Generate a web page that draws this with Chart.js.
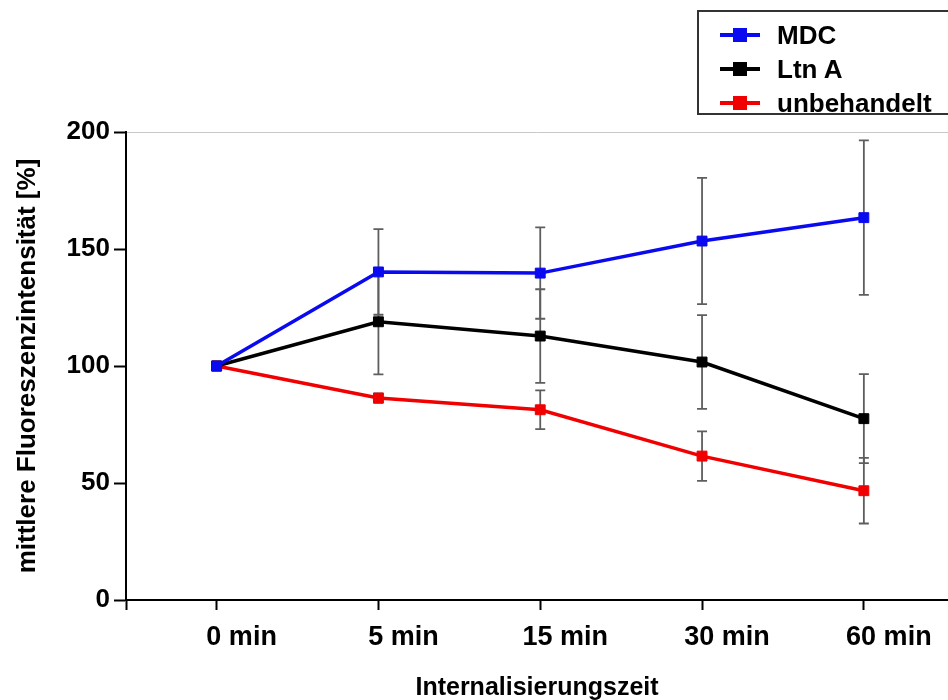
<!DOCTYPE html>
<html>
<head>
<meta charset="utf-8">
<script src="https://cdn.jsdelivr.net/npm/chart.js@4.4.0/dist/chart.umd.min.js"></script>
<style>
    html, body { margin: 0; padding: 0; background: #fff; overflow: hidden; }
    #wrap { position: relative; width: 948px; height: 700px; }
    #legend {
        position: absolute; left: 697px; top: 10px; width: 262px; height: 105px;
        box-sizing: border-box; border: 2px solid #333; background: #fff;
        padding-top: 6px; font: bold 26px "Liberation Sans", Arial, sans-serif; color: #000;
    }
    .row { height: 34px; display: flex; align-items: center; }
    .sym { position: relative; width: 40px; height: 34px; margin-left: 21px; margin-right: 17px; }
    .sym .ln { position: absolute; left: 0; right: 0; top: 15px; height: 4px; }
    .sym .mk { position: absolute; left: 13px; top: 10px; width: 14px; height: 14px; }
</style>
</head>
<body>
<div id="wrap">
    <canvas id="chart" width="948" height="700"></canvas>
    <div id="legend"></div>
</div>
<script>
// categories and values
const categories = ["0 min", "5 min", "15 min", "30 min", "60 min"];
const mdc = [100, 140.2, 139.7, 153.4, 163.4];
const mdcErr = [0, 18.3, 19.5, 27, 33];
const ltnA = [100, 118.9, 112.8, 101.7, 77.5];
const ltnAErr = [0, 22.5, 20, 20, 19];
const unbehandelt = [100, 86.3, 81.3, 61.5, 46.7];
const unbehandeltErr = [0, 2, 8.3, 10.6, 14];
const yTicks = [0, 50, 100, 150, 200];

const xMin = -0.56;
const xMax = 4.52;
const font = '"Liberation Sans", Arial, sans-serif';

function points(values) {
    return values.map((v, i) => ({ x: i, y: v }));
}

function series(label, values, errors, color) {
    return {
        label: label,
        data: points(values),
        errors: errors,
        borderColor: color,
        backgroundColor: color,
        borderWidth: 3.5,
        pointStyle: "rect",
        pointRadius: 7,
        pointBorderWidth: 1,
        tension: 0
    };
}

// error bars drawn through the scales, behind the lines
const errorBars = {
    id: "errorBars",
    beforeDatasetsDraw(chart) {
        const { ctx, scales: { x, y } } = chart;
        ctx.save();
        ctx.strokeStyle = "#5e5e5e";
        ctx.lineWidth = 1.8;
        chart.data.datasets.forEach(ds => {
            ds.errors.forEach((e, i) => {
                if (!e) return;
                const px = x.getPixelForValue(ds.data[i].x);
                const top = y.getPixelForValue(ds.data[i].y + e);
                const bot = y.getPixelForValue(ds.data[i].y - e);
                ctx.beginPath();
                ctx.moveTo(px, top); ctx.lineTo(px, bot);
                ctx.moveTo(px - 5, top); ctx.lineTo(px + 5, top);
                ctx.moveTo(px - 5, bot); ctx.lineTo(px + 5, bot);
                ctx.stroke();
            });
        });
        ctx.restore();
    }
};

const datasets = [
    series("MDC", mdc, mdcErr, "#0a0af0"),
    series("Ltn A", ltnA, ltnAErr, "#000000"),
    series("unbehandelt", unbehandelt, unbehandeltErr, "#f00000")
];

new Chart(document.getElementById("chart"), {
    type: "line",
    data: { datasets: datasets },
    plugins: [errorBars],
    options: {
        responsive: false,
        animation: false,
        layout: { autoPadding: false, padding: { top: 132, right: 0, bottom: 0, left: 0 } },
        plugins: { legend: { display: false }, tooltip: { enabled: false } },
        scales: {
            x: {
                type: "linear",
                min: xMin,
                max: xMax,
                afterBuildTicks: scale => {
                    scale.ticks = [xMin].concat(categories.map((c, i) => i)).map(v => ({ value: v }));
                },
                afterFit: scale => {
                    scale.height = 100;
                    scale.paddingLeft = 0;
                    scale.paddingRight = 0;
                },
                ticks: {
                    autoSkip: false,
                    maxRotation: 0,
                    padding: 11,
                    labelOffset: 25,
                    color: "#000",
                    font: { family: font, size: 27, weight: "bold" },
                    callback: v => Number.isInteger(v) ? categories[v] : ""
                },
                grid: {
                    drawOnChartArea: false,
                    tickLength: 10,
                    tickColor: "#000",
                    tickWidth: 2
                },
                border: { color: "#000", width: 2 },
                title: {
                    display: true,
                    text: "Internalisierungszeit",
                    color: "#000",
                    font: { family: font, size: 25, weight: "bold", lineHeight: 1 },
                    padding: { top: 0, bottom: -1 }
                }
            },
            y: {
                min: 0,
                max: 200,
                afterBuildTicks: scale => {
                    scale.ticks = yTicks.map(v => ({ value: v }));
                },
                afterFit: scale => { scale.width = 126; },
                ticks: {
                    padding: 4,
                    color: "#000",
                    font: { family: font, size: 26, weight: "bold" }
                },
                grid: {
                    color: c => (c.tick && c.tick.value === 200) ? "#c8c8c8" : "rgba(0,0,0,0)",
                    lineWidth: 1,
                    tickLength: 12,
                    tickColor: "#000",
                    tickWidth: 2
                },
                border: { color: "#000", width: 2 },
                title: {
                    display: true,
                    text: "mittlere Fluoreszenzintensität [%]",
                    color: "#000",
                    font: { family: font, size: 26, weight: "bold", lineHeight: 1 },
                    padding: { top: 15, bottom: 0 }
                }
            }
        }
    }
});

// legend box in the top right corner
const legend = document.getElementById("legend");
legend.innerHTML = datasets.map(ds =>
    `<div class="row"><div class="sym"><div class="ln" style="background:${ds.borderColor}"></div>` +
    `<div class="mk" style="background:${ds.borderColor}"></div></div><span>${ds.label}</span></div>`
).join("");
</script>
</body>
</html>
